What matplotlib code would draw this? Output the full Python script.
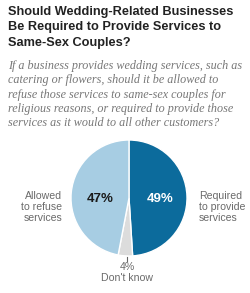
import matplotlib
matplotlib.use("Agg")
from matplotlib import pyplot as plt

# Dados da pesquisa
categorias = ["Required\nto provide\nservices", "Don't know", "Allowed\nto refuse\nservices"]
valores = [49, 4, 47]
cores = ["#0c6b9c", "#dcdcdc", "#a7cde3"]

titulo = "Should Wedding-Related Businesses\nBe Required to Provide Services to\nSame-Sex Couples?"
subtitulo = ("If a business provides wedding services, such as\n"
             "catering or flowers, should it be allowed to\n"
             "refuse those services to same-sex couples for\n"
             "religious reasons, or required to provide those\n"
             "services as it would to all other customers?")

W, H = 250, 293
fig = plt.figure(figsize=(W / 100, H / 100), dpi=100)
fig.patch.set_facecolor("white")

fig.text(8 / W, 1 - 5.5 / H, titulo, ha="left", va="top", fontsize=9.2,
         fontweight="bold", family="Liberation Sans", color="#222222", linespacing=1.42)
fig.text(8 / W, 1 - 60 / H, subtitulo, ha="left", va="top", fontsize=8.75,
         style="italic", family="Liberation Serif", color="#777777", linespacing=1.26)

# Pizza
cx, cy, r = 129, 198, 58
ax = fig.add_axes([(cx - r) / W, 1 - (cy + r) / H, 2 * r / W, 2 * r / H])
ax.pie(valores, colors=cores, startangle=90, counterclock=False,
       wedgeprops=dict(edgecolor="white", linewidth=1.0))
ax.set_xlim(-1, 1)
ax.set_ylim(-1, 1)
ax.set_aspect("equal")
ax.axis("off")

fig.text(100 / W, 1 - 199 / H, "47%", ha="center", va="center", fontsize=9.5,
         fontweight="bold", family="Liberation Sans", color="#1a1a1a")
fig.text(160 / W, 1 - 199 / H, "49%", ha="center", va="center", fontsize=9.5,
         fontweight="bold", family="Liberation Sans", color="white")

fig.text(62 / W, 1 - 207 / H, categorias[2], ha="right", va="center", fontsize=7.6,
         family="Liberation Sans", color="#6a6a6a", linespacing=1.1)
fig.text(199 / W, 1 - 207 / H, categorias[0], ha="left", va="center", fontsize=7.6,
         family="Liberation Sans", color="#6a6a6a", linespacing=1.1)

fig.add_artist(plt.Line2D([127 / W, 127 / W], [1 - 257 / H, 1 - 261 / H], color="#666666", lw=0.8))
fig.text(127 / W, 1 - 267 / H, f"{valores[1]}%", ha="center", va="center", fontsize=7.6,
         family="Liberation Sans", color="#6a6a6a")
fig.text(127 / W, 1 - 278 / H, categorias[1], ha="center", va="center", fontsize=7.6,
         family="Liberation Sans", color="#6a6a6a")

fig.savefig("out.png", dpi=100, facecolor="white")
